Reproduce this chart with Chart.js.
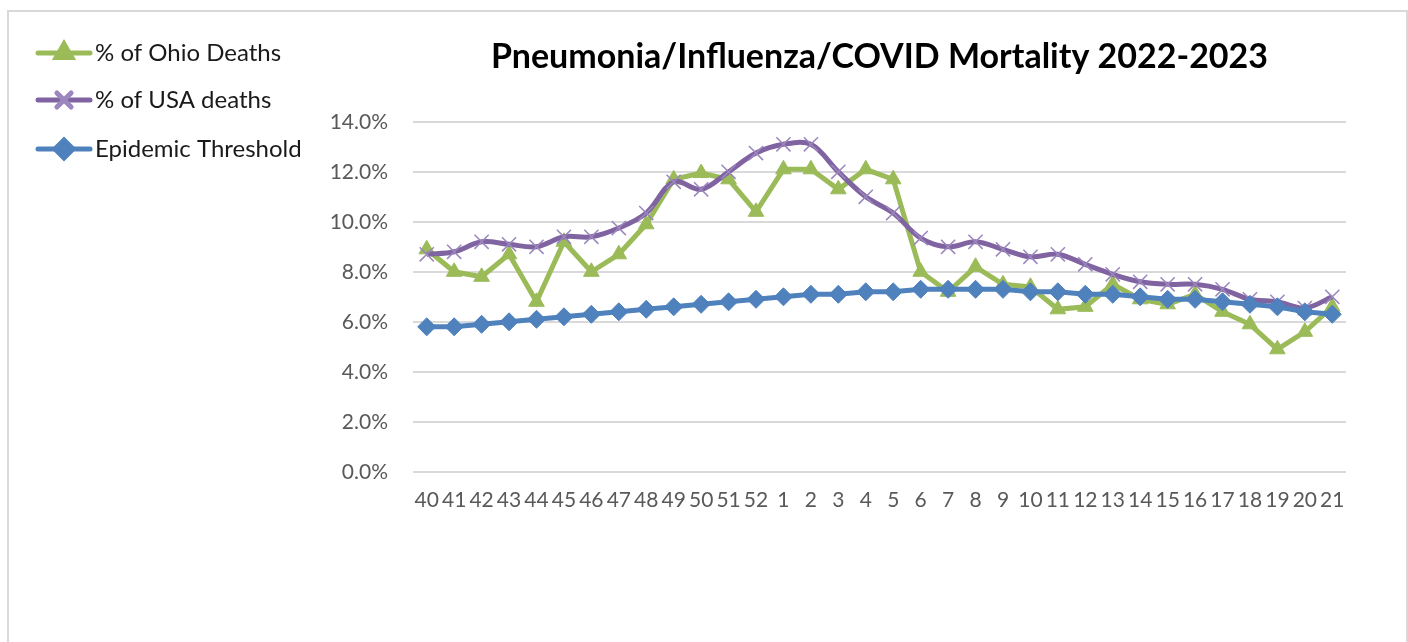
<!DOCTYPE html>
<html>
<head>
<meta charset="utf-8">
<script src="https://cdn.jsdelivr.net/npm/chart.js@4"></script>
<style>
  html, body { margin: 0; padding: 0; background: #fff; }
  #wrap { width: 1408px; height: 642px; position: relative; }
</style>
</head>
<body>
<div id="wrap"><canvas id="chart"></canvas></div>
<script>
// semaines (saison 2022-2023)
const weeks = ['40','41','42','43','44','45','46','47','48','49','50','51','52',
  '1','2','3','4','5','6','7','8','9','10','11','12','13','14','15','16','17','18','19','20','21'];

const ohioDeaths = [8.9, 8.0, 7.8, 8.7, 6.8, 9.2, 8.0, 8.7, 9.9, 11.7, 11.95, 11.7, 10.4,
  12.1, 12.1, 11.3, 12.1, 11.7, 8.0, 7.2, 8.2, 7.5, 7.4, 6.5, 6.6, 7.5, 6.9, 6.7, 7.1, 6.4, 5.9, 4.9, 5.6, 6.6];

const usaDeaths = [8.7, 8.8, 9.2, 9.1, 9.0, 9.4, 9.4, 9.75, 10.35, 11.6, 11.3, 12.0, 12.75,
  13.1, 13.1, 12.0, 11.0, 10.35, 9.35, 9.0, 9.2, 8.9, 8.6, 8.7, 8.3, 7.9, 7.6, 7.5, 7.5, 7.3, 6.9, 6.8, 6.55, 7.0];

const threshold = [5.8, 5.8, 5.9, 6.0, 6.1, 6.2, 6.3, 6.4, 6.5, 6.6, 6.7, 6.8, 6.9,
  7.0, 7.1, 7.1, 7.2, 7.2, 7.3, 7.3, 7.3, 7.3, 7.2, 7.2, 7.1, 7.1, 7.0, 6.9, 6.9, 6.8, 6.7, 6.6, 6.4, 6.3];

const yTicks = [0, 2, 4, 6, 8, 10, 12, 14];

const GREEN = '#9BBB59';
const PURPLE = '#8064A2';
const BLUE = '#4F81BD';

// Cadre gris autour du graphique
const framePlugin = {
  id: 'frame',
  beforeDraw(chart) {
    const ctx = chart.ctx;
    ctx.save();
    ctx.fillStyle = '#fff';
    ctx.fillRect(0, 0, chart.width, chart.height);
    ctx.strokeStyle = '#d9d9d9';
    ctx.lineWidth = 2;
    ctx.strokeRect(8, 11, 1399, 700);
    ctx.restore();
  }
};

// Légende façon Excel : trait + marqueur
const legendPlugin = {
  id: 'excelLegend',
  afterDraw(chart) {
    const ctx = chart.ctx;
    const ys = [53, 100, 149];
    ctx.save();
    chart.data.datasets.forEach((ds, k) => {
      const y = ys[k];
      ctx.strokeStyle = ds.borderColor;
      ctx.lineWidth = 5;
      ctx.lineCap = 'round';
      ctx.beginPath();
      ctx.moveTo(38, y);
      ctx.lineTo(90, y);
      ctx.stroke();
      ctx.fillStyle = ds.pointBackgroundColor;
      ctx.strokeStyle = ds.pointBorderColor;
      Chart.helpers.drawPoint(ctx, {
        pointStyle: ds.pointStyle,
        radius: ds.pointRadius,
        borderWidth: ds.pointBorderWidth,
        rotation: 0
      }, 64, y);
      ctx.fillStyle = '#1a1a1a';
      ctx.font = '24px Lato';
      ctx.textBaseline = 'middle';
      ctx.textAlign = 'left';
      ctx.fillText(ds.label, 95, y);
    });
    ctx.restore();
  }
};

new Chart(document.getElementById('chart'), {
  type: 'line',
  data: {
    labels: weeks,
    datasets: [
      {
        label: '% of Ohio Deaths',
        data: ohioDeaths,
        borderColor: GREEN,
        borderWidth: 5,
        pointStyle: 'triangle',
        pointRadius: 9,
        pointBackgroundColor: GREEN,
        pointBorderColor: GREEN,
        pointBorderWidth: 1,
        tension: 0,
        order: 3
      },
      {
        label: '% of USA deaths',
        data: usaDeaths,
        borderColor: PURPLE,
        borderWidth: 5,
        pointStyle: 'crossRot',
        pointRadius: 10,
        pointBackgroundColor: PURPLE,
        pointBorderColor: '#9b86bd',
        pointBorderWidth: 1.5,
        tension: 0.35,
        order: 2
      },
      {
        label: 'Epidemic Threshold',
        data: threshold,
        borderColor: BLUE,
        borderWidth: 5,
        pointStyle: 'rectRot',
        pointRadius: 9,
        pointBackgroundColor: BLUE,
        pointBorderColor: BLUE,
        pointBorderWidth: 1,
        tension: 0,
        order: 1
      }
    ]
  },
  options: {
    responsive: true,
    maintainAspectRatio: false,
    animation: false,
    layout: { padding: { left: 300, right: 62, top: 20, bottom: 121 } },
    plugins: {
      legend: { display: false },
      tooltip: { enabled: false },
      title: {
        display: true,
        text: 'Pneumonia/Influenza/COVID Mortality 2022-2023',
        fullSize: false,
        color: '#000',
        font: { family: 'Lato', size: 34, weight: 'bold', lineHeight: 1.2 },
        padding: { top: 17, bottom: 44 }
      }
    },
    scales: {
      x: {
        offset: true,
        grid: { display: false },
        border: { display: false },
        ticks: {
          autoSkip: false,
          maxRotation: 0,
          padding: 8,
          color: '#595959',
          font: { family: 'Lato', size: 21 }
        }
      },
      y: {
        min: 0,
        max: 14,
        afterBuildTicks: (s) => { s.ticks = yTicks.map(v => ({ value: v })); },
        afterFit: (s) => { s.width = 113; },
        grid: { color: '#d9d9d9', lineWidth: 2, drawTicks: false },
        border: { display: false },
        ticks: {
          padding: 25,
          color: '#595959',
          font: { family: 'Lato', size: 21 },
          callback: v => v.toFixed(1) + '%'
        }
      }
    }
  },
  plugins: [framePlugin, legendPlugin]
});
</script>
</body>
</html>
